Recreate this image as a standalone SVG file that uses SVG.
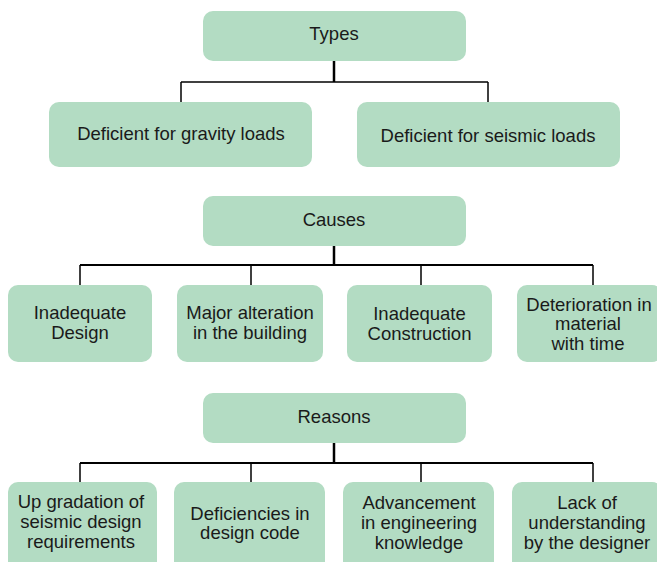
<svg xmlns="http://www.w3.org/2000/svg" width="657" height="562" viewBox="0 0 657 562">
<style>
.box{fill:#b3dcc3;}
.t{font-family:"Liberation Sans",Arial,sans-serif;font-size:18.5px;fill:#1a1a1a;text-anchor:middle;}
.ln{stroke:#000;fill:none;stroke-width:1.5;}
.trunk{stroke:#000;fill:none;stroke-width:2.5;}
.bar{stroke:#000;fill:none;stroke-width:2;}
</style>
<rect width="657" height="562" fill="#fff"/>
<g id="connectors">
<line class="trunk" x1="334" y1="61" x2="334" y2="82"/>
<line class="ln" x1="181" y1="82" x2="488" y2="82"/>
<line class="ln" x1="181" y1="82" x2="181" y2="102"/>
<line class="ln" x1="488" y1="82" x2="488" y2="102"/>
<line class="trunk" x1="334" y1="246" x2="334" y2="265"/>
<line class="bar" x1="80" y1="265" x2="593" y2="265"/>
<line class="ln" x1="80" y1="265" x2="80" y2="285"/>
<line class="ln" x1="251" y1="265" x2="251" y2="285"/>
<line class="ln" x1="421" y1="265" x2="421" y2="285"/>
<line class="ln" x1="593" y1="265" x2="593" y2="285"/>
<line class="trunk" x1="334" y1="443" x2="334" y2="463"/>
<line class="bar" x1="80" y1="463" x2="593" y2="463"/>
<line class="ln" x1="80" y1="463" x2="80" y2="482"/>
<line class="ln" x1="251" y1="463" x2="251" y2="482"/>
<line class="ln" x1="421" y1="463" x2="421" y2="482"/>
<line class="ln" x1="593" y1="463" x2="593" y2="482"/>
</g>
<g id="types"><rect class="box" x="203" y="11" width="263" height="50" rx="10"/><text class="t" x="334" y="40">Types</text></g>
<g id="gravity"><rect class="box" x="49" y="102" width="263" height="65" rx="10"/><text class="t" x="181" y="140">Deficient for gravity loads</text></g>
<g id="seismic"><rect class="box" x="357" y="102" width="263" height="65" rx="10"/><text class="t" x="488" y="142">Deficient for seismic loads</text></g>
<g id="causes"><rect class="box" x="203" y="196" width="263" height="50" rx="10"/><text class="t" x="334" y="226">Causes</text></g>
<g id="inadequate-design"><rect class="box" x="8" y="285" width="144" height="77" rx="10"/><text class="t" x="80" y="319">Inadequate</text><text class="t" x="80" y="339">Design</text></g>
<g id="major-alteration"><rect class="box" x="177" y="285" width="146" height="77" rx="10"/><text class="t" x="250" y="319">Major alteration</text><text class="t" x="250" y="339">in the building</text></g>
<g id="inadequate-construction"><rect class="box" x="347" y="285" width="145" height="77" rx="10"/><text class="t" x="419.5" y="320">Inadequate</text><text class="t" x="419.5" y="340">Construction</text></g>
<g id="deterioration"><rect class="box" x="517" y="285" width="145" height="77" rx="10"/><text class="t" x="589" y="311">Deterioration in</text><text class="t" x="588" y="330">material</text><text class="t" x="588" y="350">with time</text></g>
<g id="reasons"><rect class="box" x="203" y="393" width="263" height="50" rx="10"/><text class="t" x="334" y="423">Reasons</text></g>
<g id="upgradation"><rect class="box" x="8" y="482" width="149" height="95" rx="10"/><text class="t" x="81" y="508">Up gradation of</text><text class="t" x="81" y="528">seismic design</text><text class="t" x="81" y="548">requirements</text></g>
<g id="deficiencies"><rect class="box" x="174" y="482" width="151" height="95" rx="10"/><text class="t" x="250" y="520">Deficiencies in</text><text class="t" x="250" y="539">design code</text></g>
<g id="advancement"><rect class="box" x="343" y="482" width="151" height="95" rx="10"/><text class="t" x="419" y="509">Advancement</text><text class="t" x="419" y="529">in engineering</text><text class="t" x="419" y="549">knowledge</text></g>
<g id="lack"><rect class="box" x="512" y="482" width="150" height="95" rx="10"/><text class="t" x="587" y="509">Lack of</text><text class="t" x="587" y="529">understanding</text><text class="t" x="587" y="549">by the designer</text></g>
</svg>
